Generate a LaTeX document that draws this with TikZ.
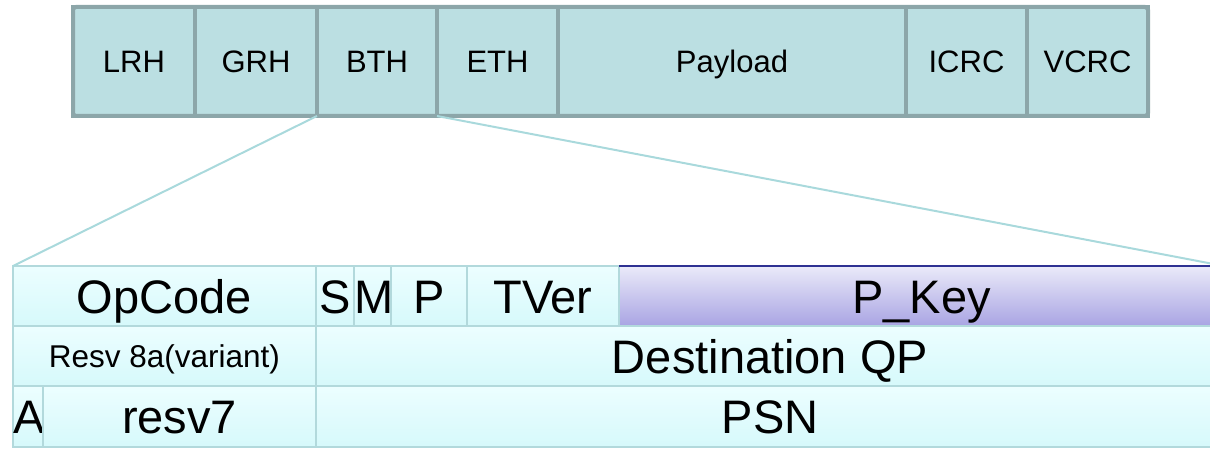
\documentclass[tikz,border=0pt]{standalone}
\usepackage{fontspec}
\setmainfont{Liberation Sans}
\definecolor{hdrfill}{HTML}{BBDFE2}
\definecolor{hdrline}{HTML}{8CA6A9}
\definecolor{fldline}{HTML}{B2D9DC}
\definecolor{fldtop}{HTML}{ECFEFF}
\definecolor{fldbot}{HTML}{D6F9FB}
\definecolor{zoomc}{HTML}{A9D9DC}
\definecolor{keytop}{HTML}{EAEAF9}
\definecolor{keybot}{HTML}{A9A4E3}
\definecolor{keyline}{HTML}{2E3192}
\begin{document}
\begin{tikzpicture}[x=1pt,y=-1pt,
  hdr/.style={draw=hdrline, line width=4pt, fill=hdrfill, inner sep=0pt, outer sep=0pt,
    minimum height=109pt, anchor=north west, text height=22pt, text depth=0pt,
    font=\fontsize{31}{36}\selectfont},
  fld/.style={draw=fldline, line width=2pt, top color=fldtop, bottom color=fldbot,
    inner sep=0pt, outer sep=0pt, minimum height=60pt, anchor=north west,
    text height=34pt, text depth=0pt, font=\fontsize{47}{54}\selectfont},
  small/.style={text height=22.5pt, font=\fontsize{31.5}{36}\selectfont},
  keyfld/.style={fld, top color=keytop, bottom color=keybot},
  zoomline/.style={draw=zoomc, line width=2pt}]
\useasboundingbox (0,0) rectangle (1210,449);
% header bar
\node[hdr, minimum width=122pt] (lrh) at (73,7) {LRH};
\node[hdr, minimum width=122pt] (grh) at (195,7) {GRH};
\node[hdr, minimum width=120pt] (bth) at (317,7) {BTH};
\node[hdr, minimum width=121pt] (eth) at (437,7) {ETH};
\node[hdr, minimum width=348pt] (pay) at (558,7) {Payload};
\node[hdr, minimum width=121pt] (icrc) at (906,7) {ICRC};
\node[hdr, minimum width=121pt] (vcrc) at (1027,7) {VCRC};
\draw[hdrline, line width=4pt, rounded corners=3pt] (lrh.north west) rectangle (vcrc.south east);
% BTH fields
\node[fld, minimum width=303pt] (opc) at (13,266) {OpCode};
\node[fld, minimum width=38pt] (s) at (316,266) {S};
\node[fld, minimum width=37pt] (m) at (354,266) {M};
\node[fld, minimum width=76pt] (p) at (391,266) {P};
\node[fld, minimum width=152pt] (tver) at (467,266) {TVer};
\node[keyfld, minimum width=605pt] (pkey) at (619,266) {P\_Key};
\draw[keyline, line width=2.5pt] (pkey.north west) -- (pkey.north east);
\node[fld, small, minimum width=303pt] (resv8) at (13,326) {Resv 8a(variant)};
\node[fld, minimum width=908pt] (dqp) at (316,326) {Destination QP};
\node[fld, minimum width=30pt, minimum height=61pt] (a) at (13,386) {A};
\node[fld, minimum width=273pt, minimum height=61pt] (resv7) at (43,386) {resv7};
\node[fld, minimum width=908pt, minimum height=61pt] (psn) at (316,386) {PSN};
% zoom connectors
\draw[zoomline] (bth.south west) -- (opc.north west);
\draw[zoomline] (bth.south east) -- (pkey.north east);
\end{tikzpicture}
\end{document}
